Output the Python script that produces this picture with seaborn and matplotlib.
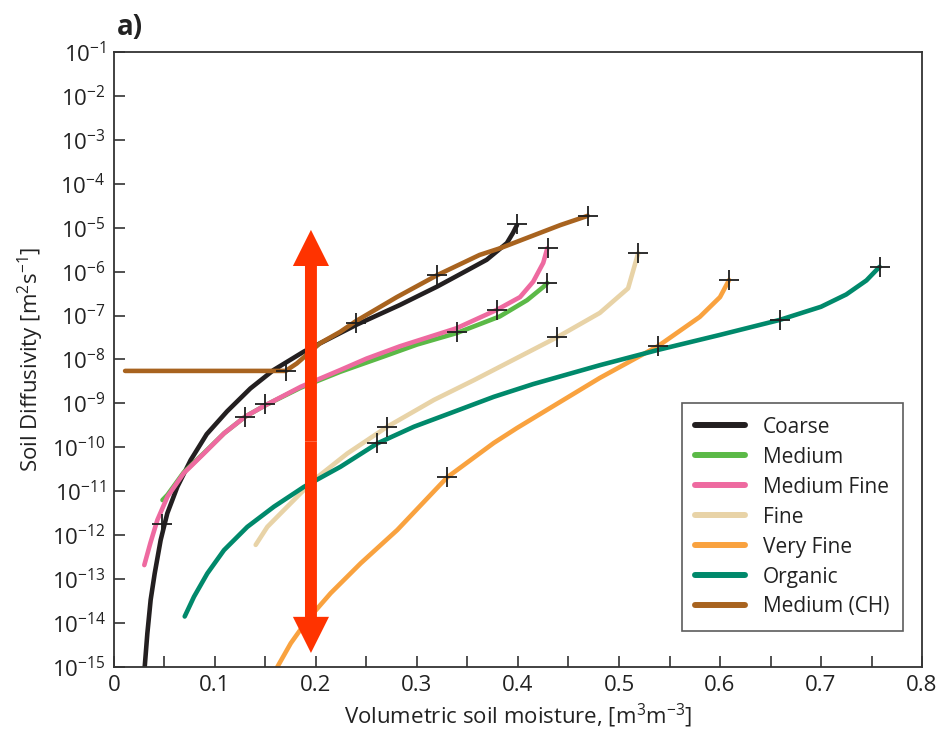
import numpy as np
import pandas as pd
import seaborn as sns
import matplotlib.pyplot as plt
from matplotlib.ticker import FixedLocator, NullLocator, FuncFormatter, MultipleLocator

# Volumetric soil moisture (m3/m3) and log10 of soil diffusivity (m2/s)
coarse_theta = [0.0304, 0.033, 0.0363, 0.0403, 0.0462, 0.0528, 0.0627, 0.0759, 0.0918, 0.112, 0.135,
                0.158, 0.188, 0.240, 0.283, 0.320, 0.349, 0.369, 0.389, 0.395, 0.399]
coarse_logd = [-15.0, -14.24, -13.47, -12.87, -12.11, -11.50, -10.90, -10.29, -9.70, -9.18, -8.66,
               -8.24, -7.82, -7.21, -6.76, -6.34, -5.98, -5.73, -5.35, -5.12, -4.94]

medium_theta = [0.048, 0.053, 0.069, 0.089, 0.109, 0.130, 0.150, 0.185, 0.224, 0.266, 0.300, 0.339,
                0.382, 0.409, 0.425, 0.429]
medium_logd = [-11.20, -11.08, -10.57, -10.13, -9.68, -9.30, -9.04, -8.64, -8.28, -7.94, -7.66, -7.40,
               -7.02, -6.65, -6.35, -6.26]

medfine_theta = [0.030, 0.036, 0.043, 0.053, 0.069, 0.089, 0.109, 0.130, 0.150, 0.185, 0.224, 0.250,
                 0.283, 0.339, 0.379, 0.402, 0.415, 0.425, 0.429]
medfine_logd = [-12.68, -12.18, -11.65, -11.12, -10.59, -10.14, -9.68, -9.30, -9.04, -8.62, -8.24, -7.98,
                -7.70, -7.29, -6.87, -6.58, -6.23, -5.80, -5.47]

fine_theta = [0.1403, 0.1518, 0.1716, 0.198, 0.231, 0.2706, 0.3168, 0.3564, 0.439, 0.481, 0.509, 0.519]
fine_logd = [-12.22, -11.81, -11.35, -10.74, -10.14, -9.53, -8.92, -8.47, -7.49, -6.94, -6.38, -5.58]

veryfine_theta = [0.1617, 0.175, 0.1914, 0.2145, 0.2442, 0.2805, 0.330, 0.376, 0.399, 0.481, 0.539,
                  0.580, 0.600, 0.609]
veryfine_logd = [-15.0, -14.46, -13.93, -13.32, -12.64, -11.88, -10.68, -9.90, -9.56, -8.42, -7.69,
                 -7.03, -6.58, -6.19]

organic_theta = [0.070, 0.0792, 0.0924, 0.1089, 0.132, 0.1584, 0.188, 0.2244, 0.2607, 0.297, 0.3366,
                 0.376, 0.415, 0.481, 0.539, 0.600, 0.659, 0.700, 0.725, 0.745, 0.758]
organic_logd = [-13.85, -13.40, -12.87, -12.34, -11.81, -11.35, -10.90, -10.44, -9.91, -9.53, -9.19,
                -8.85, -8.56, -8.13, -7.78, -7.44, -7.10, -6.80, -6.52, -6.20, -5.89]

mediumch_theta = [0.011, 0.170, 0.181, 0.204, 0.224, 0.240, 0.280, 0.320, 0.362, 0.382, 0.442, 0.469]
mediumch_logd = [-8.26, -8.26, -8.09, -7.63, -7.37, -7.12, -6.58, -6.08, -5.62, -5.47, -4.94, -4.73]

# "+" markers on each curve
marker_theta = [0.048, 0.240, 0.399, 0.150, 0.340, 0.429, 0.130, 0.379, 0.430,
                0.270, 0.439, 0.519, 0.330, 0.539, 0.609, 0.260, 0.659, 0.758,
                0.170, 0.320, 0.469]
marker_logd = [-11.75, -7.17, -4.92, -9.01, -7.37, -6.26, -9.31, -6.87, -5.46,
               -9.54, -7.49, -5.58, -10.67, -7.69, -6.19, -9.91, -7.10, -5.89,
               -8.26, -6.08, -4.73]

soils = ['Coarse', 'Medium', 'Medium Fine', 'Fine', 'Very Fine', 'Organic', 'Medium (CH)']
colors = ['#231f20', '#5bb947', '#ee6aa0', '#e8d3a7', '#f9a23f', '#00896b', '#a8631f']
curves = [(coarse_theta, coarse_logd), (medium_theta, medium_logd), (medfine_theta, medfine_logd),
          (fine_theta, fine_logd), (veryfine_theta, veryfine_logd), (organic_theta, organic_logd),
          (mediumch_theta, mediumch_logd)]

# arrow marking the range spanned at one moisture value
arrow_theta = 0.195
arrow_top, arrow_bottom = -5.05, -14.68

sns.set_theme(style='white')
plt.rcParams['font.family'] = ['Open Sans', 'DejaVu Sans']
plt.rcParams['mathtext.fontset'] = 'custom'
plt.rcParams['mathtext.rm'] = 'Open Sans'
plt.rcParams['mathtext.it'] = 'Open Sans:italic'
plt.rcParams['mathtext.bf'] = 'Open Sans:bold'

frames = []
for name, (th, ld) in zip(soils, curves):
    frames.append(pd.DataFrame({'theta': th, 'D': 10.0 ** np.array(ld), 'soil': name}))
df = pd.concat(frames, ignore_index=True)
marks = pd.DataFrame({'theta': marker_theta, 'D': 10.0 ** np.array(marker_logd)})

fig = plt.figure(figsize=(9.39, 7.35), dpi=100)
ax = fig.add_axes([0.1214, 0.0925, 0.8605, 0.8368])

sns.lineplot(data=df, x='theta', y='D', hue='soil', hue_order=soils,
             palette=dict(zip(soils, colors)), sort=False, estimator=None,
             linewidth=3.3, ax=ax)
for line in ax.get_lines():
    line.set_solid_joinstyle('round')
    line.set_solid_capstyle('round')
sns.scatterplot(data=marks, x='theta', y='D', marker='+', color='#1e1e1e',
                s=190, linewidth=1.3, zorder=5, legend=False, ax=ax)

ax.set_yscale('log')
ax.set_xlim(0, 0.8)
ax.set_ylim(1e-15, 1e-1)
ax.yaxis.set_major_locator(FixedLocator(10.0 ** np.arange(-15, 0)))
ax.yaxis.set_minor_locator(NullLocator())
ax.xaxis.set_major_locator(MultipleLocator(0.05))
ax.xaxis.set_major_formatter(FuncFormatter(
    lambda v, p: ('0' if abs(v) < 1e-9 else f'{v:.1f}') if abs(round(v * 10) - v * 10) < 1e-6 else ''))

ax.tick_params(direction='in', length=8, width=1.2, color='#333333', labelsize=16,
               labelcolor='#222222', pad=6, left=True, bottom=True)
for s in ax.spines.values():
    s.set_color('#333333')
    s.set_linewidth(1.3)

ax.set_xlabel('Volumetric soil moisture, [m$^3$m$^{-3}$]', fontsize=16, color='#222222', labelpad=4)
ax.set_ylabel('Soil Diffusivity [m$^2$s$^{-1}$]', fontsize=16, color='#222222', labelpad=4)

# double-headed red arrow drawn as two filled halves
mid = (arrow_top + arrow_bottom) / 2
for end in (arrow_top, arrow_bottom):
    ax.annotate('', xy=(arrow_theta, 10.0 ** end), xytext=(arrow_theta, 10.0 ** mid),
                arrowprops=dict(arrowstyle='simple,head_length=26,head_width=26,tail_width=8.6',
                                mutation_scale=1, color='#ff3300', lw=0,
                                shrinkA=0, shrinkB=0), zorder=6)

handles, labels = ax.get_legend_handles_labels()
leg = ax.legend(handles[:7], labels[:7], loc='lower right', bbox_to_anchor=(0.9765, 0.0585),
                borderaxespad=0, fontsize=15, frameon=True, fancybox=False, edgecolor='#333333',
                handlelength=2.4, labelspacing=0.43, borderpad=0.65, handletextpad=0.85)
leg.get_frame().set_linewidth(1.2)
for h in leg.get_lines():
    h.set_linewidth(4.3)
for t in leg.get_texts():
    t.set_color('#222222')

fig.text(0.124, 0.953, 'a)', fontsize=20, fontweight='bold', color='#222222')

fig.savefig('out.png', dpi=100)
